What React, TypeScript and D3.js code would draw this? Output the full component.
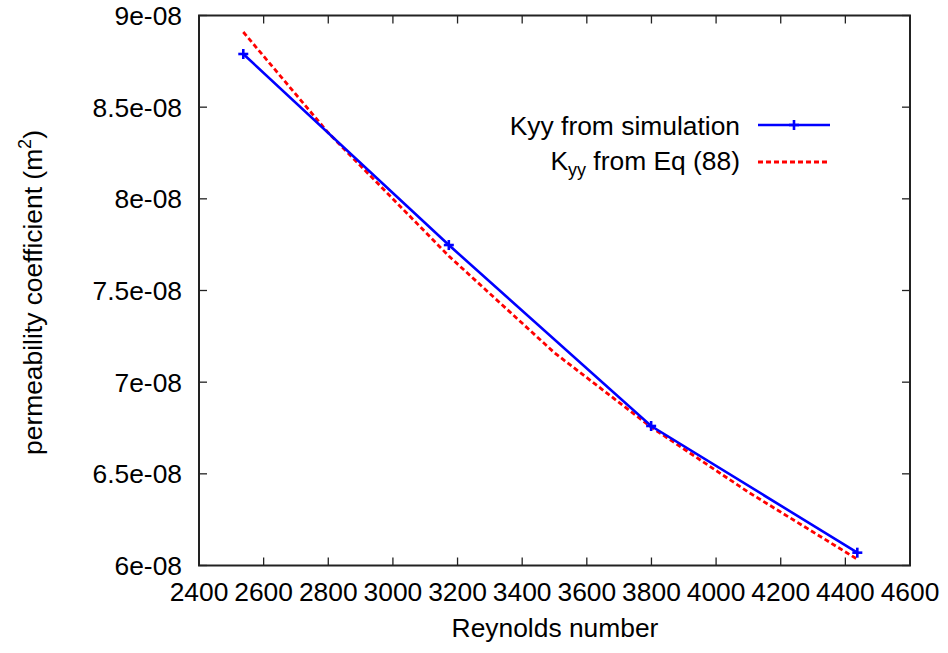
import React from "react";
import * as d3 from "d3";

const simRe = [2537, 3173, 3799, 4437];
const simK = [8.79e-8, 7.748e-8, 6.761e-8, 6.07e-8];
const eqRe = [2537, 2800, 3173, 3500, 3799, 4100, 4437];
const eqK = [8.91e-8, 8.36e-8, 7.688e-8, 7.16e-8, 6.755e-8, 6.4e-8, 6.034e-8];
const xTicks = [2400, 2600, 2800, 3000, 3200, 3400, 3600, 3800, 4000, 4200, 4400, 4600];
const yTicks = [6e-8, 6.5e-8, 7e-8, 7.5e-8, 8e-8, 8.5e-8, 9e-8];
const yTickLabels = ["6e-08", "6.5e-08", "7e-08", "7.5e-08", "8e-08", "8.5e-08", "9e-08"];

const W = 948, H = 653;
const L = 199, R = 910, T = 15.5, B = 565.5;
const FONT = "Liberation Sans, Arial, sans-serif";
const FS = 26.4;

export default function App() {
  const x = d3.scaleLinear().domain([2400, 4600]).range([L, R]);
  const y = d3.scaleLinear().domain([6e-8, 9e-8]).range([B, T]);
  const line = d3.line<[number, number]>().x(d => x(d[0])).y(d => y(d[1]));
  const simPts: [number, number][] = simRe.map((r, i) => [r, simK[i]]);
  const eqPts: [number, number][] = eqRe.map((r, i) => [r, eqK[i]]);
  const tk = 8;
  const axisColor = "#222";
  const plus = (cx: number, cy: number, k: string) => (
    <g key={k} stroke="#0000ff" strokeWidth={2.6}>
      <line x1={cx - 5} x2={cx + 5} y1={cy} y2={cy} />
      <line x1={cx} x2={cx} y1={cy - 5} y2={cy + 5} />
    </g>
  );
  return (
    <svg width={W} height={H} style={{ position: "absolute", left: 0, top: 0, background: "#fff" }} fontFamily={FONT}>
      <rect x={0} y={0} width={W} height={H} fill="#fff" />
      <g stroke={axisColor} strokeWidth={1.3}>
        {xTicks.map((t, i) => (
          <g key={"xt" + i}>
            <line x1={x(t)} x2={x(t)} y1={B} y2={B - tk} />
            <line x1={x(t)} x2={x(t)} y1={T} y2={T + tk} />
          </g>
        ))}
        {yTicks.map((t, i) => (
          <g key={"yt" + i}>
            <line x1={L} x2={L + tk} y1={y(t)} y2={y(t)} />
            <line x1={R} x2={R - tk} y1={y(t)} y2={y(t)} />
          </g>
        ))}
      </g>
      <rect x={L} y={T} width={R - L} height={B - T} fill="none" stroke={axisColor} strokeWidth={2} />
      <g fontSize={FS} fill="#000">
        {xTicks.map((t, i) => (
          <text key={"xl" + i} x={x(t)} y={601} textAnchor="middle">{t}</text>
        ))}
        {yTicks.map((t, i) => (
          <text key={"yl" + i} x={182} y={y(t) + 9.5} textAnchor="end">{yTickLabels[i]}</text>
        ))}
      </g>
      <text x={(L + R) / 2 + 0.5} y={637} textAnchor="middle" fontSize={FS} fill="#000">Reynolds number</text>
      <text transform={`translate(42,${(T + B) / 2 + 2}) rotate(-90)`} textAnchor="middle" fontSize={FS} fill="#000">
        permeability coefficient (m<tspan fontSize={18} dy={-11}>2</tspan><tspan dy={11}>)</tspan>
      </text>
      <path d={line(eqPts) || ""} fill="none" stroke="#ff0000" strokeWidth={2.8} strokeDasharray="5,3" />
      <path d={line(simPts) || ""} fill="none" stroke="#0000ff" strokeWidth={2.6} />
      {simPts.map((p, i) => plus(x(p[0]), y(p[1]), "m" + i))}
      <text x={740} y={135} textAnchor="end" fontSize={FS} fill="#000">Kyy from simulation</text>
      <line x1={758} x2={830} y1={125} y2={125} stroke="#0000ff" strokeWidth={2.6} />
      {plus(794, 125, "lg")}
      <text x={740} y={170} textAnchor="end" fontSize={FS} fill="#000">
        K<tspan fontSize={18} dy={6}>yy</tspan><tspan dy={-6}> from Eq (88)</tspan>
      </text>
      <line x1={758} x2={830} y1={162} y2={162} stroke="#ff0000" strokeWidth={2.8} strokeDasharray="5,3" />
    </svg>
  );
}
